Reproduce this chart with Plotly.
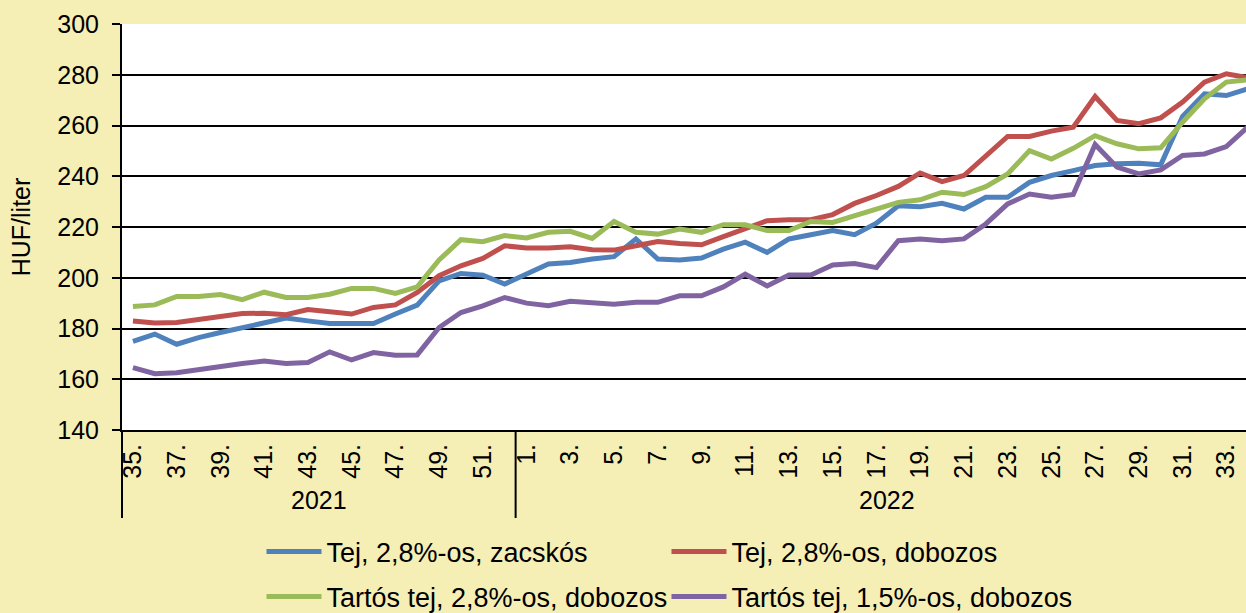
import plotly.graph_objects as go

# ---- data ----
weeks_2021 = list(range(35, 53))
weeks_2022 = list(range(1, 35))
years = ["2021"] * len(weeks_2021) + ["2022"] * len(weeks_2022)
week_labels = [f"{w}." for w in weeks_2021 + weeks_2022]

tej_zacskos = [174.9, 177.8, 173.8, 176.4, 178.4, 180.4, 182.4, 184.1, 183.0, 182.0,
               182.0, 182.0, 185.7, 189.2, 198.8, 201.7, 201.0, 197.5, 201.5, 205.4,
               206.0, 207.4, 208.3, 215.3, 207.4, 207.0, 207.8, 211.3, 214.0, 210.0,
               215.3, 217.0, 218.6, 217.0, 221.5, 228.4, 228.0, 229.3, 227.1, 231.7,
               231.7, 237.6, 240.3, 242.2, 244.2, 244.9, 245.1, 244.5, 263.6, 272.5,
               271.8, 274.5]
tej_dobozos = [183.0, 182.2, 182.4, 183.7, 184.6, 185.9, 186.0, 185.4, 187.5, 186.6,
               185.7, 188.3, 189.3, 194.2, 200.8, 204.7, 207.6, 212.6, 211.7, 211.7,
               212.2, 211.0, 210.9, 212.6, 214.3, 213.5, 213.0, 216.2, 219.2, 222.5,
               222.9, 222.9, 224.9, 229.3, 232.4, 236.0, 241.3, 237.9, 240.3, 248.2,
               255.7, 255.7, 257.8, 259.3, 271.4, 262.0, 260.7, 263.0, 269.2, 277.1,
               280.4, 278.8]
tartos_28 = [188.7, 189.3, 192.6, 192.6, 193.4, 191.4, 194.3, 192.2, 192.2, 193.5,
             195.8, 195.8, 193.8, 196.4, 207.0, 215.0, 214.2, 216.6, 215.7, 217.9,
             218.3, 215.5, 222.2, 217.9, 217.2, 219.2, 217.9, 220.9, 220.9, 218.6,
             218.6, 222.2, 221.8, 224.5, 226.9, 229.7, 230.7, 233.7, 232.8, 235.9,
             240.9, 250.1, 246.8, 251.0, 256.0, 252.8, 250.8, 251.2, 261.3, 270.5,
             277.1, 278.0]
tartos_15 = [164.6, 162.2, 162.6, 163.9, 165.0, 166.2, 167.2, 166.2, 166.6, 170.8,
             167.6, 170.5, 169.5, 169.6, 180.4, 186.3, 188.9, 192.2, 190.0, 189.0,
             190.7, 190.3, 189.6, 190.3, 190.3, 192.9, 192.9, 196.4, 201.4, 196.8,
             201.1, 201.1, 205.0, 205.6, 204.0, 214.6, 215.3, 214.6, 215.3, 221.2,
             229.1, 233.0, 231.7, 232.8, 252.5, 243.6, 240.9, 242.5, 248.2, 248.8,
             251.7, 259.6]

series_names = ["Tej, 2,8%-os, zacskós", "Tej, 2,8%-os, dobozos",
                "Tartós tej, 2,8%-os, dobozos", "Tartós tej, 1,5%-os, dobozos"]
series_values = [tej_zacskos, tej_dobozos, tartos_28, tartos_15]
series_colors = ["#4F81BD", "#C0504D", "#9BBB59", "#8064A2"]
series_legend = ["legend", "legend", "legend2", "legend2"]

y_ticks = [140, 160, 180, 200, 220, 240, 260, 280, 300]

FONT = "Liberation Sans, Arial, sans-serif"
BG = "#F5EEB5"

x_idx = list(range(len(week_labels)))
x_range = [-0.5, 50.9]

fig = go.Figure()
for name, vals, col, lg in zip(series_names, series_values, series_colors, series_legend):
    fig.add_trace(go.Scatter(x=x_idx, y=vals, mode="lines", name=name,
                             line=dict(color=col, width=5), legend=lg))

# tick labels every second week
tickvals = x_idx[::2]
ticktext = [week_labels[i] for i in tickvals]

def to_paper(v):
    return (v - x_range[0]) / (x_range[1] - x_range[0])

# year boundaries from data
shapes = []
annotations = []
groups = []
start = 0
for i in range(1, len(years) + 1):
    if i == len(years) or years[i] != years[start]:
        groups.append((years[start], start, i - 1))
        start = i
for yr, a, b in groups:
    annotations.append(dict(x=to_paper((a + b) / 2), y=-0.172, xref="paper", yref="paper",
                            text=yr, showarrow=False, font=dict(size=25, family=FONT, color="black"),
                            xanchor="center", yanchor="middle"))
    shapes.append(dict(type="line", xref="paper", yref="paper",
                       x0=to_paper(a - 0.5), x1=to_paper(a - 0.5), y0=0, y1=-0.2167,
                       line=dict(color="black", width=2)))

legend_common = dict(orientation="h", xanchor="left", yanchor="middle",
                     xref="paper", yref="paper", bgcolor="rgba(0,0,0,0)",
                     entrywidth=335, entrywidthmode="pixels", itemwidth=55,
                     font=dict(size=27, family=FONT, color="black"))

fig.update_layout(
    width=1246, height=613,
    paper_bgcolor=BG, plot_bgcolor="white",
    margin=dict(l=122, r=0, t=24, b=183, autoexpand=False),
    font=dict(family=FONT, size=25, color="black"),
    showlegend=True,
    legend=dict(x=0.1241, y=-0.3005, **legend_common),
    legend2=dict(x=0.1241, y=-0.4113, **legend_common),
    shapes=shapes,
    annotations=annotations,
)

fig.update_xaxes(range=x_range, tickmode="array", tickvals=tickvals, ticktext=ticktext,
                 tickangle=-90, showgrid=False, zeroline=False, showline=True,
                 linecolor="black", linewidth=2, ticks="", ticklabelstandoff=2,
                 tickfont=dict(size=25, family=FONT, color="black"))
fig.update_yaxes(range=[140, 300], tickmode="array", tickvals=y_ticks,
                 showgrid=True, gridcolor="black", gridwidth=2, zeroline=False,
                 showline=True, linecolor="black", linewidth=2,
                 ticks="outside", ticklen=8, tickwidth=2, tickcolor="black",
                 ticklabelstandoff=8,
                 tickfont=dict(size=25, family=FONT, color="black"),
                 title=dict(text="HUF/liter", standoff=20,
                            font=dict(size=25, family=FONT, color="black")))

fig.write_html("out.html", config={"displayModeBar": False},
               post_script="document.body.style.margin='0px';document.body.style.overflow='hidden';")
